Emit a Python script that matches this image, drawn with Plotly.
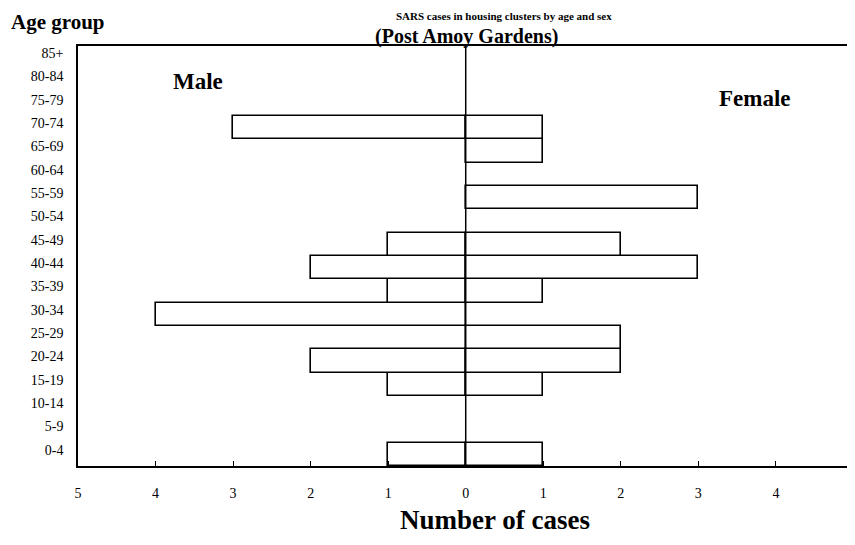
import plotly.graph_objects as go

age_groups = ["0-4", "5-9", "10-14", "15-19", "20-24", "25-29", "30-34", "35-39",
              "40-44", "45-49", "50-54", "55-59", "60-64", "65-69", "70-74",
              "75-79", "80-84", "85+"]
male = [1, 0, 0, 1, 2, 0, 4, 1, 2, 1, 0, 0, 0, 0, 3, 0, 0, 0]
female = [1, 0, 0, 1, 2, 2, 0, 1, 3, 2, 0, 3, 0, 1, 1, 0, 0, 0]
x_ticks = [-5, -4, -3, -2, -1, 0, 1, 2, 3, 4, 5]
x_tick_text = ["5", "4", "3", "2", "1", "0", "1", "2", "3", "4", "5"]

SERIF = "Liberation Serif, Times New Roman, serif"

idx = list(range(len(age_groups)))
m_y = [i for i in idx if male[i] > 0]
m_x = [-male[i] for i in m_y]
f_y = [i for i in idx if female[i] > 0]
f_x = [female[i] for i in f_y]

fig = go.Figure()
bar_style = dict(orientation="h", width=1.0,
                 marker=dict(color="white", line=dict(color="black", width=1.6)),
                 showlegend=False, hoverinfo="x+y")
fig.add_trace(go.Bar(y=m_y, x=m_x, name="Male", **bar_style))
fig.add_trace(go.Bar(y=f_y, x=f_x, name="Female", **bar_style))

# page offset of the figure inside the html body (default body margin)
OFF = 8
W, H = 855, 545
# plot area in page pixels
PL, PR, PT, PB = 78, 855, 46, 466
L, R, T, B = PL - OFF, PR - OFF, PT - OFF, PB - OFF

fig.update_layout(
    width=W, height=H,
    margin=dict(l=L, r=W - R, t=T, b=H - B, autoexpand=False),
    paper_bgcolor="white", plot_bgcolor="white",
    barmode="overlay", bargap=0,
    font=dict(family=SERIF, color="black"),
    xaxis=dict(range=[-5, 5.02], tickvals=x_ticks, ticktext=x_tick_text,
               ticks="inside", ticklen=5, tickcolor="black", tickwidth=1,
               showline=True, linecolor="black", linewidth=1.5, mirror=True,
               showgrid=False, zeroline=False, ticklabeloverflow="allow",
               tickfont=dict(family=SERIF, size=14, color="black"),
               ticklabelstandoff=13),
    yaxis=dict(range=[-0.5, 17.5], tickvals=[i + 0.2 for i in idx],
               ticktext=age_groups, ticks="", showline=True, linecolor="black",
               linewidth=1.5, showgrid=False, zeroline=False,
               tickfont=dict(family=SERIF, size=14, color="black"),
               ticklabelstandoff=10),
)

fig.add_shape(type="line", xref="x", yref="paper", x0=0, x1=0, y0=0, y1=1,
              line=dict(color="black", width=1.5), layer="above")

# positions in page pixels
anns = [
    dict(text="<b>SARS cases in housing clusters by age and sex</b>", x=504, y=8,
         size=11, xanchor="center", yanchor="top"),
    dict(text="<b>Age group</b>", x=9, y=22, size=21, xanchor="left", yanchor="middle"),
    dict(text="<b>(Post Amoy Gardens)</b>", x=467, y=36, size=20, xanchor="center", yanchor="middle"),
    dict(text="<b>Male</b>", x=198, y=81, size=23, xanchor="center", yanchor="middle"),
    dict(text="<b>Female</b>", x=755, y=98, size=23, xanchor="center", yanchor="middle"),
    dict(text="<b>Number of cases</b>", x=495, y=520, size=27, xanchor="center", yanchor="middle"),
]
for a in anns:
    fig.add_annotation(text=a["text"], xref="paper", yref="paper",
                       x=(a["x"] - OFF - L) / (R - L),
                       y=1 - (a["y"] - OFF - T) / (B - T),
                       xanchor=a["xanchor"], yanchor=a["yanchor"], showarrow=False,
                       font=dict(family=SERIF, size=a["size"], color="black"))

fig.write_html("out.html")
